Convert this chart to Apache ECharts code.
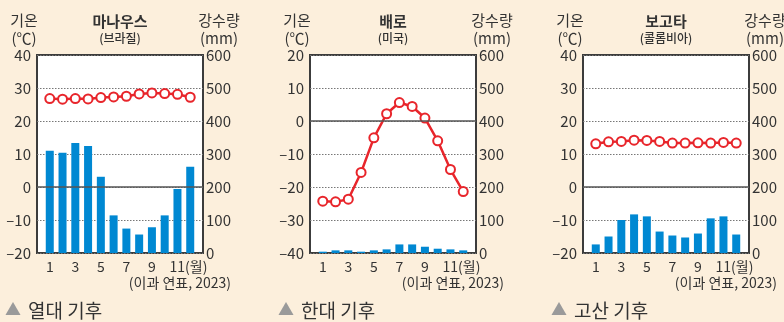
<!DOCTYPE html>
<html>
<head>
<meta charset="utf-8">
<script src="https://cdn.jsdelivr.net/npm/echarts@6/dist/echarts.min.js"></script>
<style>
  html, body { margin: 0; padding: 0; background: #fcefdc; }
  #chart { width: 784px; height: 322px; }
</style>
</head>
<body>
<div id="chart"></div>
<script>
// Monthly climate normals for three stations
const months = [1, 2, 3, 4, 5, 6, 7, 8, 9, 10, 11, 12];

const manausTemp = [26.8, 26.6, 26.8, 26.7, 27.1, 27.3, 27.5, 28.2, 28.5, 28.3, 28.1, 27.2];
const manausRain = [310, 304, 333, 324, 231, 114, 74, 56, 78, 114, 194, 261];

const barrowTemp = [-24.3, -24.5, -23.7, -15.6, -5.1, 2.2, 5.6, 4.4, 0.9, -6.0, -14.7, -21.4];
const barrowRain = [4, 8, 8, 4, 8, 11, 26, 26, 19, 13, 11, 8];

const bogotaTemp = [13.1, 13.7, 13.8, 14.2, 14.1, 13.8, 13.3, 13.3, 13.4, 13.3, 13.5, 13.3];
const bogotaRain = [26, 50, 100, 117, 111, 65, 53, 47, 59, 105, 111, 56];

const stationNames = ['마나우스', '배로', '보고타'];
const countryNames = ['(브라질)', '(미국)', '(콜롬비아)'];
const climateNames = ['열대 기후', '한대 기후', '고산 기후'];
const tempRanges = [[-20, 40], [-40, 20], [-20, 40]];
const rainRange = [0, 600];
const sourceNote = '(이과 연표, 2023)';

const temps = [manausTemp, barrowTemp, bogotaTemp];
const rains = [manausRain, barrowRain, bogotaRain];

const FONT = '"Noto Sans CJK KR", "Noto Sans", sans-serif';
const TXT = '#333333';
const RED = '#e8252b';
const BLUE = '#0088d2';

const PANEL_STEP = 273;
const BOX_LEFT = 37;
const BOX_W = 166;

const dash = v => String(v).replace('-', '\u2013');

const grids = [], xAxes = [], yAxes = [], series = [], graphics = [];

for (let i = 0; i < 3; i++) {
  const o = PANEL_STEP * i;
  grids.push({
    left: o + BOX_LEFT, top: 55, width: BOX_W, height: 198,
    show: true, backgroundColor: '#ffffff', borderColor: '#3c3c3c', borderWidth: 2, z: 0
  });
  xAxes.push({
    type: 'value', gridIndex: i, min: 0, max: 13, interval: 1,
    axisLine: { show: false }, axisTick: { show: false }, splitLine: { show: false },
    axisLabel: {
      color: TXT, fontFamily: FONT, fontSize: 14, margin: 7,
      formatter: v => {
        if (v === 11) return '{m|11(월)}';
        return (v >= 1 && v <= 12 && v % 2 === 1) ? String(v) : '';
      },
      rich: { m: { color: TXT, fontFamily: FONT, fontSize: 14, padding: [0, 0, 0, 22] } }
    }
  });
  // temperature axis (left)
  yAxes.push({
    type: 'value', gridIndex: i, position: 'left',
    min: tempRanges[i][0], max: tempRanges[i][1], interval: 10,
    axisLine: { show: false }, axisTick: { show: false },
    splitLine: { show: true, lineStyle: { color: '#777', type: [1.5, 1.5], width: 1 } },
    axisLabel: { color: TXT, fontFamily: FONT, fontSize: 15, margin: 6, formatter: dash }
  });
  // precipitation axis (right)
  yAxes.push({
    type: 'value', gridIndex: i, position: 'right',
    min: rainRange[0], max: rainRange[1], interval: 100,
    axisLine: { show: false }, axisTick: { show: false }, splitLine: { show: false },
    axisLabel: { color: TXT, fontFamily: FONT, fontSize: 15, margin: 3 }
  });

  // 0 °C reference line, behind the bars
  series.push({
    type: 'line', xAxisIndex: i, yAxisIndex: 2 * i, data: [], z: 1, silent: true,
    markLine: {
      silent: true, symbol: 'none', label: { show: false },
      lineStyle: { color: '#555', type: 'solid', width: 1.5 },
      data: [{ yAxis: 0 }]
    }
  });
  series.push({
    type: 'bar', xAxisIndex: i, yAxisIndex: 2 * i + 1, barWidth: 8, z: 2,
    itemStyle: { color: BLUE },
    data: months.map((m, k) => [m, rains[i][k]])
  });
  series.push({
    type: 'line', xAxisIndex: i, yAxisIndex: 2 * i, z: 3,
    symbol: 'circle', symbolSize: 9,
    lineStyle: { color: RED, width: 2.5 },
    itemStyle: { color: '#ffffff', borderColor: RED, borderWidth: 2 },
    data: months.map((m, k) => [m, temps[i][k]])
  });

  const t = (x, y, text, extra) => graphics.push({
    type: 'text', x: x, y: y,
    style: Object.assign({ text: text, fill: TXT, font: '15px ' + FONT, textAlign: 'center', textVerticalAlign: 'middle' }, extra || {})
  });
  t(o + 24, 20, '기온');
  t(o + 24, 38, '(℃)');
  t(o + 120, 21, stationNames[i], { font: 'bold 15px ' + FONT });
  t(o + 120, 38, countryNames[i], { font: '500 12px ' + FONT });
  t(o + 219, 20, '강수량');
  t(o + 219, 38, '(mm)');
  t(o + 231, 283, sourceNote, { font: '14px ' + FONT, textAlign: 'right' });
  t(o + 13, 309, '▲', { font: '16px ' + FONT, fill: '#9a9a9a' });
  t(o + 28, 311, climateNames[i], { font: '19px ' + FONT, textAlign: 'left' });
}

const chart = echarts.init(document.getElementById('chart'), null, { renderer: 'canvas' });
chart.setOption({
  backgroundColor: '#fcefdc',
  animation: false,
  grid: grids,
  xAxis: xAxes,
  yAxis: yAxes,
  series: series,
  graphic: graphics
});
</script>
</body>
</html>
